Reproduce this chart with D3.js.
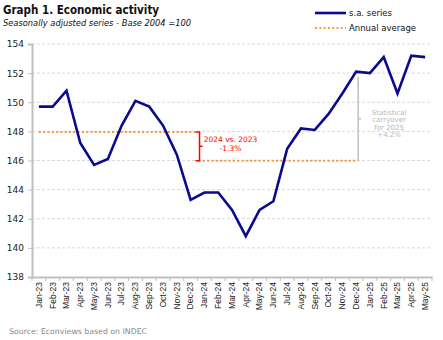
<!DOCTYPE html>
<html>
<head>
<meta charset="utf-8">
<script src="https://cdn.jsdelivr.net/npm/d3@7"></script>
<style>
  html, body { margin: 0; padding: 0; background: #fff; }
  svg { display: block; font-family: "DejaVu Sans", Verdana, sans-serif; }
</style>
</head>
<body>
<svg id="chart" width="443" height="340"></svg>
<script>
// Monthly index, seasonally adjusted (base 2004 = 100)
const months = ["Jan-23","Feb-23","Mar-23","Apr-23","May-23","Jun-23","Jul-23","Aug-23","Sep-23","Oct-23","Nov-23","Dec-23",
                "Jan-24","Feb-24","Mar-24","Apr-24","May-24","Jun-24","Jul-24","Aug-24","Sep-24","Oct-24","Nov-24","Dec-24",
                "Jan-25","Feb-25","Mar-25","Apr-25","May-25"];
const saSeries = [149.7,149.7,150.8,147.2,145.7,146.1,148.4,150.1,149.7,148.4,146.4,143.3,
                  143.8,143.8,142.6,140.8,142.6,143.2,146.8,148.2,148.1,149.2,150.6,152.1,
                  152.0,153.1,150.6,153.2,153.1];
// Annual averages: year suffix and the months each line spans
const avgYears = ["23","24"];
const avgStart = ["Jan-23","Dec-23"];
const avgEnd = ["Dec-23","Dec-24"];
const yTicks = [138,140,142,144,146,148,150,152,154];

// Average of the twelve months of each year
const avgValues = avgYears.map(yr => d3.mean(saSeries.filter((v, i) => months[i].endsWith("-" + yr))));

const svg = d3.select("#chart");
const plotLeft = 32, plotRight = 432, plotTop = 44, plotBottom = 277;

const x = d3.scaleBand().domain(months).range([plotLeft, plotRight]);
const cx = m => x(m) + x.bandwidth() / 2;
const y = d3.scaleLinear().domain([138, 154]).range([plotBottom, plotTop]);

const navy = "#0a0a8e", orange = "#f7963c", axisGrey = "#bfbfbf";
const pct = v => (v >= 0 ? "+" : "-") + Math.abs(v).toFixed(1) + "%";

// Gridlines
svg.append("g").selectAll("line").data(yTicks.filter(t => t > 138)).join("line")
  .attr("x1", plotLeft).attr("x2", plotRight)
  .attr("y1", d => y(d)).attr("y2", d => y(d))
  .attr("stroke", "#d9d9d9").attr("stroke-width", 1).attr("stroke-dasharray", "3,2");

// Y axis
const yAxis = svg.append("g").attr("transform", `translate(${plotLeft},0)`)
  .call(d3.axisLeft(y).tickValues(yTicks).tickSize(4).tickPadding(4).tickFormat(d3.format("d")));
yAxis.select(".domain").attr("stroke", axisGrey).attr("stroke-width", 2);
yAxis.selectAll(".tick line").attr("stroke", axisGrey);
yAxis.selectAll(".tick text").attr("font-size", 9).attr("fill", "#222")
  .attr("font-family", "DejaVu Sans, sans-serif");

// X axis with category boundary ticks
const xAxis = svg.append("g").attr("transform", `translate(0,${plotBottom})`)
  .call(d3.axisBottom(x).tickSize(0).tickPadding(0));
xAxis.select(".domain").attr("stroke", axisGrey).attr("stroke-width", 2);
xAxis.selectAll(".tick text")
  .attr("font-size", 8.5).attr("fill", "#222")
  .attr("transform", "rotate(-90)")
  .attr("text-anchor", "end").attr("dx", "-5").attr("dy", "0.33em").attr("y", 0);
svg.append("g").selectAll("line").data(months.concat(["_end"])).join("line")
  .attr("x1", (d, i) => plotLeft + i * x.step()).attr("x2", (d, i) => plotLeft + i * x.step())
  .attr("y1", plotBottom).attr("y2", plotBottom + 4)
  .attr("stroke", axisGrey).attr("stroke-width", 1);

// Annual average lines
avgYears.forEach((yr, i) => {
  const x0 = i === 0 ? cx(avgStart[i]) : cx(avgStart[i]) + x.step() / 2 + 1;
  const x1 = i === 0 ? cx(avgEnd[i]) + x.step() / 2 - 2 : cx(avgEnd[i]) + 2;
  svg.append("line")
    .attr("x1", x0).attr("x2", x1)
    .attr("y1", y(avgValues[i])).attr("y2", y(avgValues[i]))
    .attr("stroke", orange).attr("stroke-width", 2.2)
    .attr("stroke-dasharray", "2,2.3");
});

// Series line
svg.append("path")
  .datum(saSeries)
  .attr("fill", "none").attr("stroke", navy).attr("stroke-width", 2.6)
  .attr("stroke-linejoin", "miter")
  .attr("d", d3.line().x((d, i) => cx(months[i])).y(d => y(d)));

// Bracket: 2024 vs 2023
const bx = cx("Dec-23") + x.step() / 2 + 2;
const yA = y(avgValues[0]), yB = y(avgValues[1]);
const red = "#ff0000";
svg.append("path")
  .attr("d", `M${bx - 4},${yA} H${bx} V${yB} H${bx - 4} M${bx},${(yA + yB) / 2} H${bx + 3}`)
  .attr("fill", "none").attr("stroke", red).attr("stroke-width", 1.5);
const pctYear = ((avgValues[1] / avgValues[0]) - 1) * 100;
const redText = svg.append("text").attr("fill", red).attr("font-size", 7.5).attr("text-anchor", "middle");
redText.append("tspan").attr("x", bx + 31).attr("y", (yA + yB) / 2 - 4.5).text("2024 vs. 2023");
redText.append("tspan").attr("x", bx + 31).attr("y", (yA + yB) / 2 + 5).text(pct(pctYear));

// Statistical carryover bracket
const gx = cx("Dec-24") + 2;
const yTop = y(saSeries[months.indexOf("Dec-24")]) + 5;
svg.append("path")
  .attr("d", `M${gx},${yTop} V${yB} M${gx},${(yTop + yB) / 2} H${gx + 3}`)
  .attr("fill", "none").attr("stroke", "#bfbfbf").attr("stroke-width", 1.5);
const carry = ((saSeries[months.indexOf("Dec-24")] / avgValues[1]) - 1) * 100;
const greyText = svg.append("text").attr("fill", "#b8b8b8").attr("font-size", 7).attr("text-anchor", "middle");
["Statistical", "carryover", "for 2025", pct(carry)].forEach((t, i) => {
  greyText.append("tspan").attr("x", gx + 31).attr("y", 115 + i * 7.3).text(t);
});

// Titles
svg.append("text").attr("x", 3).attr("y", 14).attr("font-size", 11.5).attr("font-weight", "bold")
  .attr("font-family", "DejaVu Sans Condensed, DejaVu Sans, sans-serif")
  .attr("fill", "#111").text("Graph 1. Economic activity");
svg.append("text").attr("x", 3).attr("y", 26).attr("font-size", 8.3).attr("font-style", "italic")
  .attr("fill", "#111").text("Seasonally adjusted series - Base 2004 =100");

// Legend
const lg = svg.append("g");
lg.append("line").attr("x1", 315).attr("x2", 346).attr("y1", 13).attr("y2", 13)
  .attr("stroke", navy).attr("stroke-width", 2.6);
lg.append("text").attr("x", 349).attr("y", 16).attr("font-size", 8.5).attr("fill", "#111").text("s.a. series");
lg.append("line").attr("x1", 315).attr("x2", 346).attr("y1", 28).attr("y2", 28)
  .attr("stroke", orange).attr("stroke-width", 2.2).attr("stroke-dasharray", "2,2.3");
lg.append("text").attr("x", 349).attr("y", 31).attr("font-size", 8.5).attr("fill", "#111").text("Annual average");

// Source
svg.append("text").attr("x", 9).attr("y", 334).attr("font-size", 7.8).attr("fill", "#8a8a8a")
  .text("Source: Econviews based on INDEC");
</script>
</body>
</html>
